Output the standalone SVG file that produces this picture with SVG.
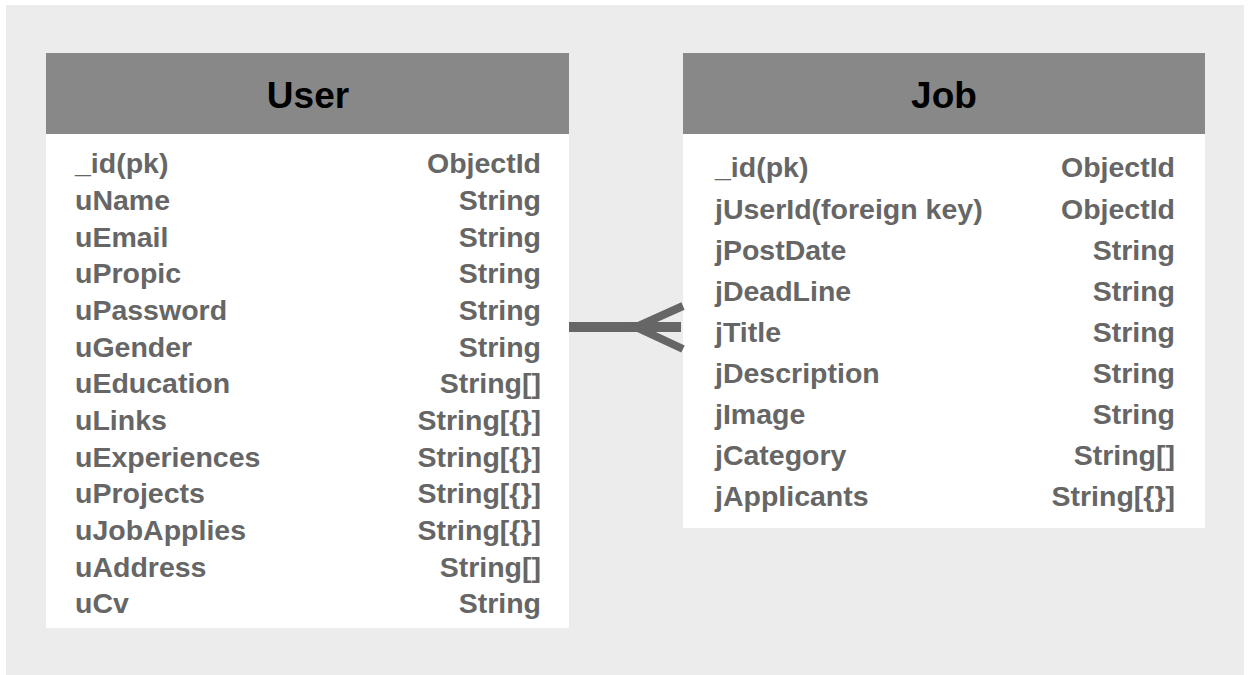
<svg xmlns="http://www.w3.org/2000/svg" width="1250" height="675" viewBox="0 0 1250 675">
<style>
.bg{fill:#ececec}
.hdr{fill:#888888}
.body{fill:#ffffff}
.title{font-family:"Liberation Sans",Arial,sans-serif;font-weight:bold;font-size:37px;fill:#000;text-anchor:middle}
.f{font-family:"Liberation Sans",Arial,sans-serif;font-weight:bold;font-size:28.5px;fill:#666666}
.r{text-anchor:end}
.conn{stroke:#666666;fill:none;stroke-linecap:butt}
</style>
<rect x="0" y="0" width="1250" height="675" fill="#ffffff"/>
<rect class="bg" x="6" y="5" width="1238" height="670"/>
<g id="user">
<rect class="body" x="46" y="53" width="523" height="575"/>
<rect class="hdr" x="46" y="53" width="523" height="81"/>
<text class="title" x="308" y="108">User</text>
<text class="f" x="75" y="173">_id(pk)</text><text class="f r" x="541" y="173">ObjectId</text>
<text class="f" x="75" y="210">uName</text><text class="f r" x="541" y="210">String</text>
<text class="f" x="75" y="247">uEmail</text><text class="f r" x="541" y="247">String</text>
<text class="f" x="75" y="283">uPropic</text><text class="f r" x="541" y="283">String</text>
<text class="f" x="75" y="320">uPassword</text><text class="f r" x="541" y="320">String</text>
<text class="f" x="75" y="357">uGender</text><text class="f r" x="541" y="357">String</text>
<text class="f" x="75" y="393">uEducation</text><text class="f r" x="541" y="393">String[]</text>
<text class="f" x="75" y="430">uLinks</text><text class="f r" x="541" y="430">String[{}]</text>
<text class="f" x="75" y="467">uExperiences</text><text class="f r" x="541" y="467">String[{}]</text>
<text class="f" x="75" y="503">uProjects</text><text class="f r" x="541" y="503">String[{}]</text>
<text class="f" x="75" y="540">uJobApplies</text><text class="f r" x="541" y="540">String[{}]</text>
<text class="f" x="75" y="577">uAddress</text><text class="f r" x="541" y="577">String[]</text>
<text class="f" x="75" y="613">uCv</text><text class="f r" x="541" y="613">String</text>
</g>
<g id="job">
<rect class="body" x="683" y="53" width="522" height="475"/>
<rect class="hdr" x="683" y="53" width="522" height="81"/>
<text class="title" x="944" y="108">Job</text>
<text class="f" x="715" y="177">_id(pk)</text><text class="f r" x="1175" y="177">ObjectId</text>
<text class="f" x="715" y="219">jUserId(foreign key)</text><text class="f r" x="1175" y="219">ObjectId</text>
<text class="f" x="715" y="260">jPostDate</text><text class="f r" x="1175" y="260">String</text>
<text class="f" x="715" y="301">jDeadLine</text><text class="f r" x="1175" y="301">String</text>
<text class="f" x="715" y="342">jTitle</text><text class="f r" x="1175" y="342">String</text>
<text class="f" x="715" y="383">jDescription</text><text class="f r" x="1175" y="383">String</text>
<text class="f" x="715" y="424">jImage</text><text class="f r" x="1175" y="424">String</text>
<text class="f" x="715" y="465">jCategory</text><text class="f r" x="1175" y="465">String[]</text>
<text class="f" x="715" y="506">jApplicants</text><text class="f r" x="1175" y="506">String[{}]</text>
</g>
<g id="connectors">
<line class="conn" x1="569" y1="327" x2="681" y2="327" stroke-width="10"/>
<polyline class="conn" points="683,306 636,327 683,349" stroke-width="8"/>
</g>
</svg>
